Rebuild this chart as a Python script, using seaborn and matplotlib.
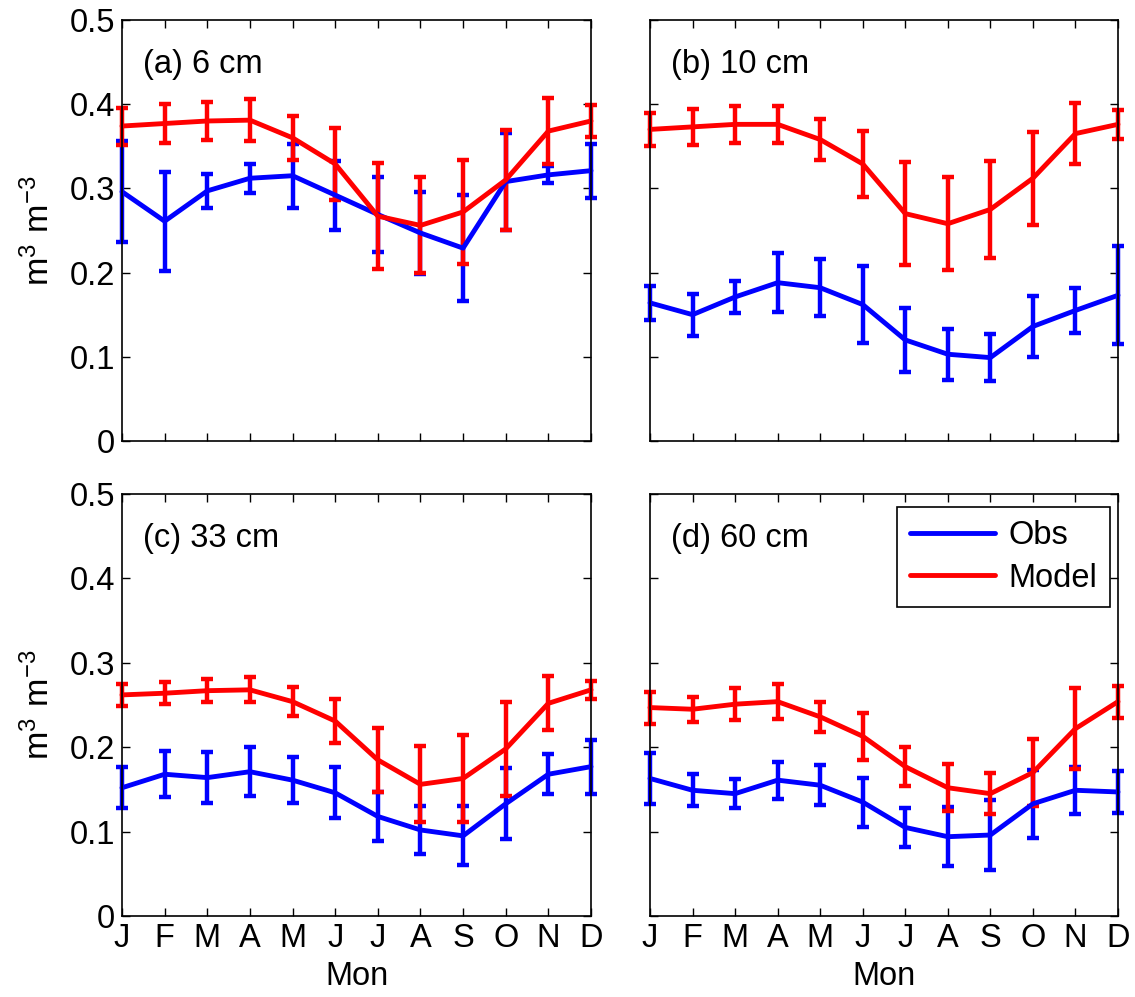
import numpy as np
import pandas as pd
import matplotlib
matplotlib.use("Agg")
import matplotlib.pyplot as plt
import seaborn as sns

months = ['J', 'F', 'M', 'A', 'M', 'J', 'J', 'A', 'S', 'O', 'N', 'D']
panels = ['(a) 6 cm', '(b) 10 cm', '(c) 33 cm', '(d) 60 cm']

# soil moisture (m3 m-3), monthly means and error bar half-widths
obs_6 = [0.296, 0.261, 0.297, 0.312, 0.315, 0.292, 0.269, 0.247, 0.229, 0.308, 0.316, 0.321]
obs_6_err = [0.060, 0.059, 0.020, 0.017, 0.038, 0.041, 0.044, 0.049, 0.063, 0.058, 0.010, 0.032]
mod_6 = [0.374, 0.377, 0.380, 0.381, 0.360, 0.329, 0.267, 0.256, 0.272, 0.310, 0.368, 0.380]
mod_6_err = [0.022, 0.023, 0.023, 0.025, 0.026, 0.043, 0.063, 0.057, 0.062, 0.059, 0.039, 0.019]

obs_10 = [0.164, 0.150, 0.171, 0.188, 0.182, 0.162, 0.120, 0.103, 0.099, 0.136, 0.155, 0.173]
obs_10_err = [0.020, 0.025, 0.019, 0.035, 0.034, 0.046, 0.038, 0.030, 0.028, 0.036, 0.027, 0.058]
mod_10 = [0.370, 0.373, 0.376, 0.376, 0.358, 0.329, 0.270, 0.258, 0.275, 0.312, 0.365, 0.376]
mod_10_err = [0.020, 0.021, 0.022, 0.022, 0.024, 0.039, 0.061, 0.055, 0.058, 0.055, 0.036, 0.017]

obs_33 = [0.152, 0.168, 0.164, 0.171, 0.161, 0.146, 0.118, 0.102, 0.095, 0.133, 0.168, 0.177]
obs_33_err = [0.024, 0.027, 0.030, 0.029, 0.027, 0.030, 0.029, 0.028, 0.035, 0.042, 0.024, 0.032]
mod_33 = [0.262, 0.264, 0.267, 0.268, 0.254, 0.231, 0.185, 0.156, 0.163, 0.198, 0.252, 0.268]
mod_33_err = [0.013, 0.013, 0.014, 0.015, 0.017, 0.026, 0.038, 0.045, 0.052, 0.056, 0.032, 0.011]

obs_60 = [0.163, 0.149, 0.145, 0.161, 0.155, 0.135, 0.105, 0.094, 0.096, 0.133, 0.149, 0.147]
obs_60_err = [0.030, 0.019, 0.017, 0.022, 0.024, 0.029, 0.023, 0.035, 0.042, 0.040, 0.028, 0.025]
mod_60 = [0.247, 0.245, 0.251, 0.254, 0.236, 0.213, 0.177, 0.152, 0.145, 0.170, 0.222, 0.254]
mod_60_err = [0.019, 0.015, 0.019, 0.021, 0.018, 0.028, 0.023, 0.028, 0.024, 0.040, 0.048, 0.019]

series = [(obs_6, obs_6_err, mod_6, mod_6_err),
          (obs_10, obs_10_err, mod_10, mod_10_err),
          (obs_33, obs_33_err, mod_33, mod_33_err),
          (obs_60, obs_60_err, mod_60, mod_60_err)]

sns.set_style("ticks")
plt.rcParams['font.family'] = ['Liberation Sans', 'DejaVu Sans']
plt.rcParams['mathtext.fontset'] = 'custom'
plt.rcParams['mathtext.rm'] = 'Liberation Sans'
plt.rcParams['xtick.direction'] = 'in'
plt.rcParams['ytick.direction'] = 'in'
for key in ['text.color', 'axes.labelcolor', 'xtick.color', 'ytick.color']:
    plt.rcParams[key] = 'black'

colors = {'Obs': '#0000ff', 'Model': '#ff0000'}
fs = 23.5

fig = plt.figure(figsize=(11.35, 9.97), dpi=100)
boxes = [[0.1075, 0.5577, 0.4132, 0.4223],
         [0.5727, 0.5577, 0.4123, 0.4223],
         [0.1075, 0.0812, 0.4132, 0.4233],
         [0.5727, 0.0812, 0.4123, 0.4233]]

x = np.arange(1, 13)
for i, (o, oe, m, me) in enumerate(series):
    ax = fig.add_axes(boxes[i])
    df = pd.DataFrame({
        'month': np.concatenate([x, x]),
        'value': o + m,
        'err': oe + me,
        'source': ['Obs'] * 12 + ['Model'] * 12,
    })
    for src in ['Obs', 'Model']:
        sub = df[df['source'] == src]
        ax.errorbar(sub['month'], sub['value'], yerr=sub['err'], fmt='none',
                    ecolor=colors[src], elinewidth=3.2, capsize=4.5, capthick=3.2,
                    zorder=2 if src == 'Obs' else 3, clip_on=False)
    sns.lineplot(data=df, x='month', y='value', hue='source', palette=colors,
                 hue_order=['Obs', 'Model'], linewidth=3.5, ax=ax,
                 legend=(i == 3), zorder=3)
    for ln in ax.lines:
        ln.set_clip_on(False)

    ax.set_xlim(1, 12)
    ax.set_ylim(0, 0.5)
    ax.set_xticks(x)
    ax.set_yticks(np.arange(0, 0.51, 0.1))
    ax.tick_params(top=True, right=True, length=6, width=1, labelsize=fs, pad=5)
    if i >= 2:
        ax.set_xticklabels(months)
        ax.set_xlabel('Mon', fontsize=fs, labelpad=5)
    else:
        ax.set_xticklabels([])
        ax.set_xlabel('')
    if i % 2 == 0:
        ax.set_yticklabels(['0', '0.1', '0.2', '0.3', '0.4', '0.5'])
        ax.set_ylabel(r'$\mathregular{m^3\ m^{-3}}$', fontsize=fs + 1, labelpad=10)
    else:
        ax.set_yticklabels([])
        ax.set_ylabel('')
    for sp in ax.spines.values():
        sp.set_linewidth(1.2)
        sp.set_color('black')
        sp.set_zorder(5)
    ax.text(0.045, 0.895, panels[i], transform=ax.transAxes, fontsize=fs,
            va='center', ha='left')
    if i == 3:
        leg = ax.legend(loc='upper right', fontsize=fs, frameon=True, fancybox=False,
                        edgecolor='black', handlelength=2.6, borderpad=0.4,
                        labelspacing=0.35, handletextpad=0.4, borderaxespad=0,
                        framealpha=1, bbox_to_anchor=(0.983, 0.969))
        leg.get_frame().set_linewidth(1.2)
        for h in leg.get_lines():
            h.set_linewidth(3.5)

fig.savefig('out.png', dpi=100)
